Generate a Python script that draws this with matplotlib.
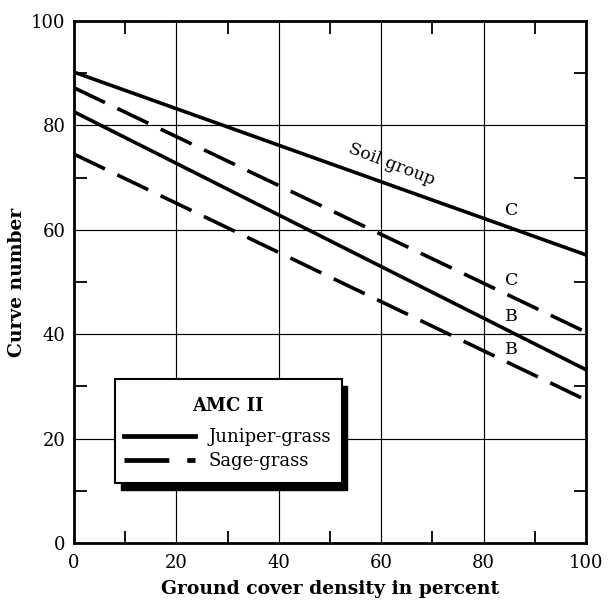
import matplotlib.pyplot as plt
from matplotlib.patches import Rectangle

# ground cover density (%) and curve numbers at the two ends of each line
cover = [0, 100]
juniper_c = [90.2, 55.2]
sage_c = [87.2, 40.4]
juniper_b = [82.6, 33.2]
sage_b = [74.5, 27.4]

# soil group labels: (x, y, text)
soil_labels = [(85.5, 63.6, "C"), (85.5, 50.2, "C"), (85.5, 43.4, "B"), (85.5, 37.0, "B")]

ticks = [0, 20, 40, 60, 80, 100]
minor = [10, 30, 50, 70, 90]

plt.rcParams['font.family'] = ['DejaVu Serif']

fig = plt.figure(figsize=(6.08, 6.01), dpi=100)
ax = fig.add_axes([0.1217, 0.0965, 0.842, 0.8686])

dash = (0, (9.5, 3.8))
lw = 2.6
ax.plot(cover, juniper_c, color='black', lw=lw, label='Juniper-grass')
ax.plot(cover, sage_c, color='black', lw=lw, ls=dash, label='Sage-grass')
ax.plot(cover, juniper_b, color='black', lw=lw)
ax.plot(cover, sage_b, color='black', lw=lw, ls=dash)

for x, y, t in soil_labels:
    ax.text(x, y, t, fontsize=12.5, ha='center', va='center')
ax.text(62, 72.6, "Soil group", fontsize=12.5, ha='center', va='center', rotation=-21)

ax.set_xlim(0, 100)
ax.set_ylim(0, 100)
ax.set_xticks(ticks)
ax.set_yticks(ticks)
ax.set_xticks(minor, minor=True)
ax.set_yticks(minor, minor=True)
ax.tick_params(which='major', length=0, labelsize=13)
ax.tick_params(axis='x', which='major', pad=8)
ax.tick_params(axis='y', which='major', pad=6)
ax.tick_params(which='minor', direction='in', length=9, width=1.3,
               top=True, right=True, bottom=True, left=True)
ax.grid(True, which='major', color='black', lw=0.85)
for s in ax.spines.values():
    s.set_linewidth(2)

ax.set_xlabel("Ground cover density in percent", fontsize=13.5, fontweight='bold', labelpad=6)
ax.set_ylabel("Curve number", fontsize=13.5, fontweight='bold', labelpad=4)

# legend box with a solid drop shadow
box_x0, box_x1, box_y0, box_y1 = 8.0, 52.3, 11.5, 31.4
ax.add_patch(Rectangle((box_x0 + 1.1, box_y0 - 1.4), box_x1 - box_x0, box_y1 - box_y0,
                       facecolor='black', edgecolor='black', zorder=4))
ax.add_patch(Rectangle((box_x0, box_y0), box_x1 - box_x0, box_y1 - box_y0,
                       facecolor='white', edgecolor='black', lw=1.5, zorder=4.5))
ax.text(30.0, 26.2, "AMC II", fontsize=13, fontweight='bold', ha='center', va='center', zorder=5)

leg = ax.legend(loc='center', bbox_to_anchor=(30.0, 18.0), bbox_transform=ax.transData,
                fontsize=13, frameon=False, handlelength=3.9, handletextpad=0.75,
                borderpad=0, labelspacing=0.32, borderaxespad=0)
for ln in leg.get_lines():
    ln.set_linewidth(3.4)
leg.set_zorder(5)

fig.savefig("out.png", dpi=100)
